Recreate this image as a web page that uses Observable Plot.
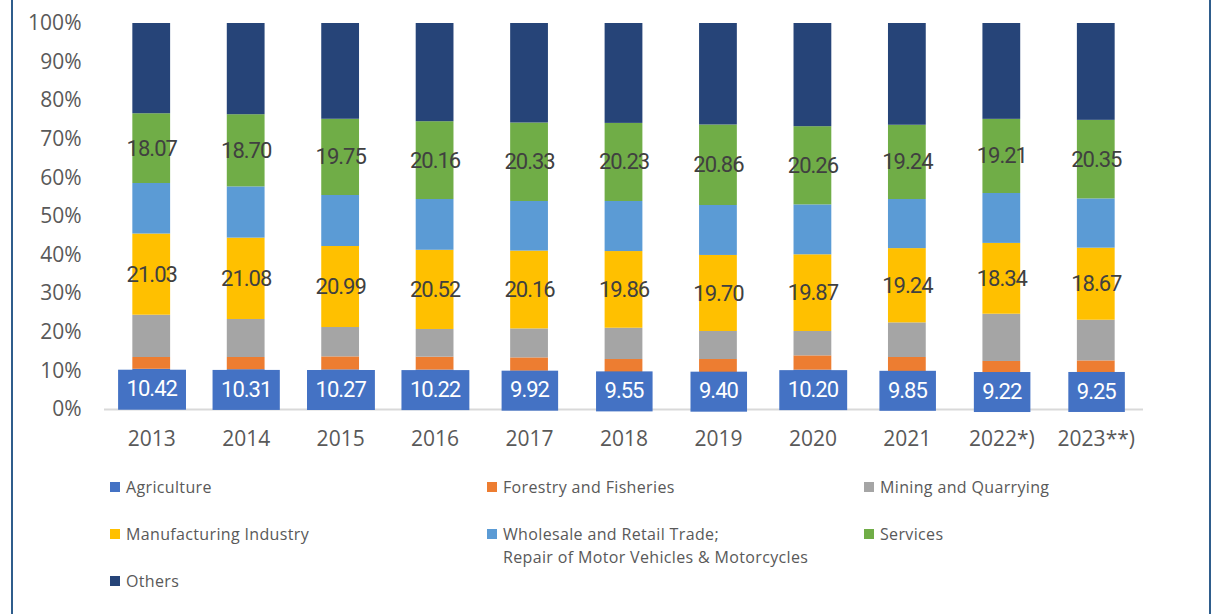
<!DOCTYPE html>
<html>
<head>
<meta charset="utf-8">
<script src="https://cdn.jsdelivr.net/npm/d3@7"></script>
<script src="https://cdn.jsdelivr.net/npm/@observablehq/plot@0.6"></script>
<style>
  html, body { margin: 0; padding: 0; background: #fff; }
  #wrap { position: relative; width: 1218px; height: 614px; overflow: hidden; background: #fff; }
  #wrap .edge { position: absolute; top: 0; bottom: 0; width: 2px; background: #2f5d8c; }
  #chart svg { display: block; }
  .lg-item { position: absolute; font-family: "Open Sans", sans-serif; font-size: 16px; letter-spacing: 0.35px; line-height: 23px; color: #595959; white-space: pre-line; }
  .lg-sw { position: absolute; left: 0; top: 6px; width: 10px; height: 10px; }
  .lg-tx { margin-left: 16px; }
</style>
</head>
<body>
<div id="wrap">
  <div id="chart"></div>
  <div id="legend"></div>
  <div class="edge" style="left:11px"></div>
  <div class="edge" style="left:1209px"></div>
</div>
<script>
const years = ["2013","2014","2015","2016","2017","2018","2019","2020","2021","2022*)","2023**)"];
const seriesNames = [
  "Agriculture",
  "Forestry and Fisheries",
  "Mining and Quarrying",
  "Manufacturing Industry",
  "Wholesale and Retail Trade;\nRepair of Motor Vehicles & Motorcycles",
  "Services",
  "Others"
];
const seriesColors = ["#4472C4","#ED7D31","#A5A5A5","#FFC000","#5B9BD5","#70AD47","#264478"];

const agriculture   = [10.42,10.31,10.27,10.22, 9.92, 9.55, 9.40,10.20, 9.85, 9.22, 9.25];
const forestry      = [ 3.05, 3.16, 3.36, 3.33, 3.45, 3.40, 3.55, 3.69, 3.62, 3.22, 3.34];
const mining        = [10.96, 9.85, 7.61, 7.18, 7.51, 8.11, 7.26, 6.32, 8.97,12.25,10.54];
const manufacturing = [21.03,21.08,20.99,20.52,20.16,19.86,19.70,19.87,19.24,18.34,18.67];
const wholesale     = [13.09,13.27,13.21,13.15,12.85,12.97,12.94,12.93,12.72,12.93,12.76];
const services      = [18.07,18.70,19.75,20.16,20.33,20.23,20.86,20.26,19.24,19.21,20.35];
const others        = [23.38,23.63,24.81,25.44,25.78,25.88,26.29,26.73,26.36,24.83,25.09];

const yTicks = [0,10,20,30,40,50,60,70,80,90,100];
const midLabelSeries = ["Manufacturing Industry", "Services"];

const seriesValues = [agriculture, forestry, mining, manufacturing, wholesale, services, others];
const rows = [];
years.forEach((year, i) => {
  seriesNames.forEach((s, k) => rows.push({year, series: s, value: seriesValues[k][i]}));
});

const chart = Plot.plot({
  width: 1218,
  height: 460,
  marginLeft: 104,
  marginRight: 75,
  marginTop: 23,
  marginBottom: 51,
  style: {fontFamily: "'Open Sans', sans-serif", fontSize: "21px", color: "#595959", background: "transparent"},
  x: {domain: years, paddingInner: 0.6, paddingOuter: 0.3, round: false, label: null, tickSize: 0, tickPadding: 22},
  y: {domain: [0, 100], ticks: yTicks, tickFormat: d => d + "%", label: null, tickSize: 0, tickPadding: 23},
  color: {domain: seriesNames, range: seriesColors},
  marks: [
    Plot.barY(rows, {x: "year", y: "value", fill: "series"}),
    Plot.ruleY([0], {stroke: "#d9d9d9", strokeWidth: 2}),
    Plot.text(rows, Plot.stackY({
      x: "year", y: "value", z: "series",
      text: d => midLabelSeries.includes(d.series) ? d.value.toFixed(2) : null,
      fill: "#404040", fontFamily: "Roboto, sans-serif", fontSize: 22
    })),
    Plot.text(rows, Plot.stackY({
      x: "year", y: "value", z: "series",
      text: d => d.series === seriesNames[0] ? d.value.toFixed(2) : null,
      fill: "white", fontFamily: "Roboto, sans-serif", fontSize: 22
    }))
  ]
});
document.getElementById("chart").appendChild(chart);

// letter-spacing on data labels & blue boxes behind agriculture labels
chart.querySelectorAll('g[aria-label="text"]').forEach(g => {
  g.querySelectorAll("text").forEach(t => t.style.letterSpacing = "-1px");
  if (g.getAttribute("fill") === "white") {
    g.querySelectorAll("text").forEach(t => {
      const bb = t.getBBox();
      const tr = t.getAttribute("transform");
      const xa = t.getAttribute("x"), ya = t.getAttribute("y");
      const cy = ya != null ? parseFloat(ya) : 0;
      const r = document.createElementNS("http://www.w3.org/2000/svg", "rect");
      r.setAttribute("x", bb.x - 8.5);
      r.setAttribute("y", cy - 20);
      r.setAttribute("width", bb.width + 17);
      r.setAttribute("height", 40);
      r.setAttribute("fill", seriesColors[0]);
      if (tr) r.setAttribute("transform", tr);
      g.insertBefore(r, t);
    });
  }
});

// legend
const legend = document.getElementById("legend");
const rowTops = [476, 523, 570];
const colLefts = [110, 487, 864];
seriesNames.forEach((s, i) => {
  const item = document.createElement("div");
  item.className = "lg-item";
  item.style.left = colLefts[i % 3] + "px";
  item.style.top = rowTops[Math.floor(i / 3)] + "px";
  const sw = document.createElement("span");
  sw.className = "lg-sw";
  sw.style.background = seriesColors[i];
  const tx = document.createElement("div");
  tx.className = "lg-tx";
  tx.textContent = s;
  item.appendChild(sw);
  item.appendChild(tx);
  legend.appendChild(item);
});
</script>
</body>
</html>
